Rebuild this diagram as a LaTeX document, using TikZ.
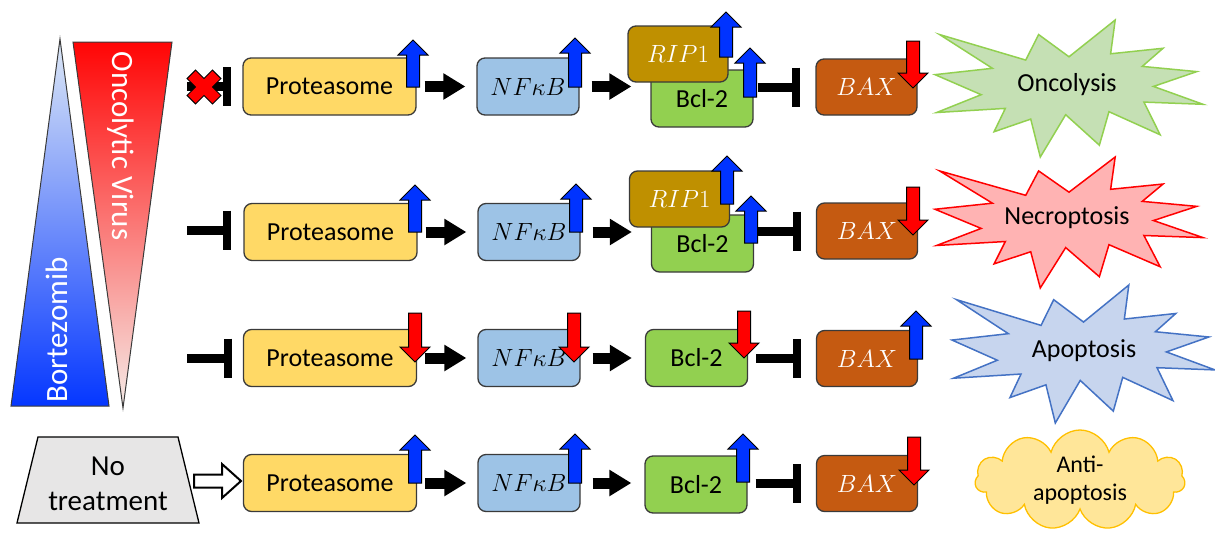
\documentclass[tikz,border=0pt]{standalone}
\usepackage{fontspec}
\setmainfont{Carlito}
\usetikzlibrary{arrows.meta,shapes.symbols,calc}
\definecolor{protY}{HTML}{FFD966}
\definecolor{nfB}{HTML}{9DC3E6}
\definecolor{bclG}{HTML}{92D050}
\definecolor{ripG}{HTML}{BF9000}
\definecolor{baxO}{HTML}{C55A11}
\definecolor{upB}{HTML}{0033FF}
\definecolor{dnR}{HTML}{FF0000}
\definecolor{boxline}{HTML}{3A3A3A}
\definecolor{oncF}{HTML}{C5E0B4}
\definecolor{oncD}{HTML}{92D050}
\definecolor{necF}{HTML}{FFB3B3}
\definecolor{necD}{HTML}{FF0000}
\definecolor{apoF}{HTML}{C7D5EE}
\definecolor{apoD}{HTML}{4472C4}
\definecolor{cloudF}{HTML}{FFE699}
\definecolor{cloudD}{HTML}{FFC000}
\definecolor{ntF}{HTML}{E7E6E6}
\tikzset{
  box/.style={draw=boxline, line width=1.3pt, rounded corners=8pt, minimum height=57pt, inner sep=0pt, font=\fontsize{26}{30}\selectfont},
  protbox/.style={box, fill=protY, minimum width=173pt},
  nfbox/.style={box, fill=nfB, minimum width=102pt, font=\fontsize{25}{30}\selectfont},
  bclbox/.style={box, fill=bclG, minimum width=102pt},
  ripbox/.style={box, fill=ripG, minimum width=100pt, minimum height=56pt, text=white, font=\fontsize{25}{30}\selectfont},
  baxbox/.style={box, fill=baxO, minimum width=101pt, minimum height=56pt, text=white, font=\fontsize{25}{30}\selectfont},
  arr/.style={line width=11pt, -{Triangle[width=25pt,length=22pt]}},
  inh/.style={line width=9pt, -{Bar[width=39pt,line width=8pt]}},
  indup/.style={fill=upB, draw=black, line width=1pt, line join=miter},
  inddn/.style={fill=dnR, draw=black, line width=1pt, line join=miter},
  seallabel/.style={font=\fontsize{26}{30}\selectfont},
  trilabel/.style={text=white, font=\fontsize{31}{31}\selectfont, inner sep=0pt}
}
\newcommand\upind[3]{\draw[indup] (#1-6.5,#3) -- (#1-6.5,#2+15) -- (#1-15,#2+15) -- (#1,#2) -- (#1+15,#2+15) -- (#1+6.5,#2+15) -- (#1+6.5,#3) -- cycle;}
\newcommand\dnind[3]{\draw[inddn] (#1-6.5,#2) -- (#1-6.5,#3-15) -- (#1-15,#3-15) -- (#1,#3) -- (#1+15,#3-15) -- (#1+6.5,#3-15) -- (#1+6.5,#2) -- cycle;}
\newcommand\sealpath[5]{\begin{scope}[shift={(#1,#2)},xscale=#3/216,yscale=#4/216]
\draw[#5] (108,58) -- (145.22,0) -- (141.55,53.25) -- (183.80,44.57) -- (167.02,73.15) -- (210.97,81.37) -- (176.07,104.75) -- (216,132.90) -- (168.37,129.42) -- (181.45,180.95) -- (140.20,144.57) -- (132.47,197.37) -- (105.32,149.35) -- (84.85,216) -- (77.15,156.27) -- (47.62,176.17) -- (56.67,139.37) -- (1.35,145.87) -- (37.22,117.75) -- (0,86.15) -- (46.27,76.17) -- (3.70,22.95) -- (73.12,63.20) -- (83.52,22.95) -- cycle;
\end{scope}}
\begin{document}
\begin{tikzpicture}[x=1pt,y=-1pt]
\useasboundingbox (0,0) rectangle (1215,533);
% treatment triangles
\shade[top color={rgb,255:red,222;green,233;blue,246}, middle color={rgb,255:red,135;green,172;blue,228}, bottom color={rgb,255:red,5;green,55;blue,255}, draw=boxline, line width=1pt]
  (60,39) -- (109,406) -- (11,406) -- cycle;
\shade[top color={rgb,255:red,255;green,5;blue,5}, middle color={rgb,255:red,246;green,165;blue,135}, bottom color={rgb,255:red,246;green,236;blue,232}, draw=boxline, line width=1pt]
  (73,42) -- (172,42) -- (123,408) -- cycle;
\node[trilabel, rotate=90, anchor=base] (bort) at (67,330) {Bortezomib};
\node[trilabel, rotate=-90, anchor=base] (ov) at (112,146) {Oncolytic Virus};
% no treatment
\draw[fill=ntF, draw=black, line width=1.3pt] (38,437) -- (178,437) -- (199,523) -- (17,523) -- cycle;
\node[align=center, font=\fontsize{29}{35}\selectfont] (nt) at (108,484) {No\\treatment};
% outcome shapes
\sealpath{935}{20}{268}{137}{fill=oncF, draw=oncD, line width=1.5pt}
\sealpath{935}{157}{268}{131}{fill=necF, draw=necD, line width=1.5pt}
\sealpath{952}{285}{263}{138}{fill=apoF, draw=apoD, line width=1.5pt}
\node[seallabel] (onc) at (1067,85) {Oncolysis};
\node[seallabel] (nec) at (1067,218) {Necroptosis};
\node[seallabel] (apo) at (1084,351) {Apoptosis};
\node[cloud, cloud puffs=11, aspect=2.1, draw=cloudD, fill=cloudF, line width=1.3pt, minimum width=210pt, minimum height=100pt, align=center, inner sep=0pt, font=\fontsize{24}{28}\selectfont] (anti) at (1080,480) {Anti-\\apoptosis};
% row 1
\node[protbox] (prot1) at (329.5,86.5) {Proteasome};
\node[nfbox] (nf1) at (528,86.5) {$NF\kappa B$};
\node[bclbox] (bcl1) at (702,98.5) {Bcl-2};
\node[ripbox] (rip1) at (678,54) {$RIP1$};
\node[baxbox] (bax1) at (866.5,87) {$BAX$};
% row 2
\node[protbox] (prot2) at (330.5,232) {Proteasome};
\node[nfbox] (nf2) at (529,232) {$NF\kappa B$};
\node[bclbox] (bcl2) at (702.5,243.5) {Bcl-2};
\node[ripbox] (rip2) at (679.5,199) {$RIP1$};
\node[baxbox] (bax2) at (867,231) {$BAX$};
% row 3
\node[protbox] (prot3) at (330,358) {Proteasome};
\node[nfbox] (nf3) at (529,358) {$NF\kappa B$};
\node[bclbox] (bcl3) at (696.5,358) {Bcl-2};
\node[baxbox] (bax3) at (867,358.5) {$BAX$};
% row 4
\node[protbox] (prot4) at (330,483) {Proteasome};
\node[nfbox] (nf4) at (529,483) {$NF\kappa B$};
\node[bclbox] (bcl4) at (696,484.5) {Bcl-2};
\node[baxbox] (bax4) at (867,483.5) {$BAX$};
% left inhibitors
\coordinate (s1) at (187,86.5);
\coordinate (s2) at (187,230);
\coordinate (s3) at (187,358);
\draw[inh, shorten >=11pt] (s1) -- (s1 -| prot1.west);
\draw[inh, shorten >=12pt] (s2) -- (s2 -| prot2.west);
\draw[inh, shorten >=11pt] (s3) -- (s3 -| prot3.west);
\begin{scope}[shift={(204,87)}, rotate=45]
\draw[fill=dnR, draw=black, line width=1pt, line join=miter] (6,18) -- (6,6) -- (18,6) -- (18,-6) -- (6,-6) -- (6,-18) -- (-6,-18) -- (-6,-6) -- (-18,-6) -- (-18,6) -- (-6,6) -- (-6,18) -- cycle;
\end{scope}
% hollow arrow from no treatment
\draw[fill=white, draw=black, line width=2pt, line join=miter] (194,474.5) -- (222,474.5) -- (222,464) -- (241,481) -- (222,498) -- (222,487.5) -- (194,487.5) -- cycle;
% connectors
\foreach \r in {1,2,3,4}{
  \draw[arr, shorten <=8pt, shorten >=11pt] (prot\r.east) -- (nf\r.west);
}
\draw[arr, shorten <=12pt, shorten >=19pt] (nf1.east) -- (nf1.east -| bcl1.west);
\draw[arr, shorten <=12pt, shorten >=19pt] (nf2.east) -- (nf2.east -| bcl2.west);
\draw[arr, shorten <=12pt, shorten >=13pt] (nf3.east) -- (bcl3.west);
\draw[arr, shorten <=12pt, shorten >=13pt] (nf4.east) -- (nf4.east -| bcl4.west);
\draw[inh, shorten <=4pt, shorten >=15pt] (bcl1.east |- bax1.west) -- (bax1.west);
\draw[inh, shorten <=4pt, shorten >=15pt] (bcl2.east |- bax2.west) -- (bax2.west);
\draw[inh, shorten <=8pt, shorten >=15pt] (bcl3.east |- bax3.west) -- (bax3.west);
\draw[inh, shorten <=8pt, shorten >=15pt] (bcl4.east |- bax4.west) -- (bax4.west);
% indicator arrows row 1
\upind{413}{40}{87}
\upind{575}{38}{87}
\upind{726}{12}{57}
\upind{750}{48}{97}
\dnind{913}{41}{88}
% row 2
\upind{415}{185}{232}
\upind{576}{184}{232}
\upind{727}{156}{204}
\upind{751}{196}{243}
\dnind{913}{187}{235}
% row 3
\dnind{415}{313}{362}
\dnind{574}{313}{362}
\dnind{744}{311}{358}
\upind{916}{311}{359}
% row 4
\upind{415}{435}{483}
\upind{575}{434}{483}
\upind{743}{434}{482}
\dnind{914}{437}{485}
\end{tikzpicture}
\end{document}
